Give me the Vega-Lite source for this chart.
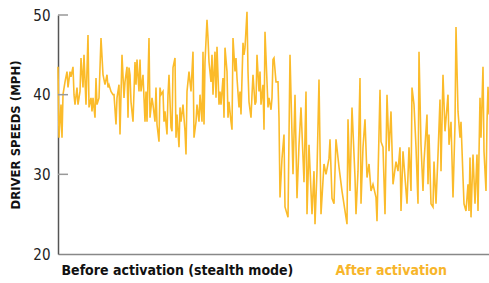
{
  "$schema": "https://vega.github.io/schema/vega-lite/v6.json",
  "width": 431,
  "height": 239,
  "autosize": {"type": "none"},
  "padding": {"left": 58, "top": 15, "right": 0, "bottom": 29},
  "background": "white",
  "config": {"view": {"stroke": null}, "font": "DejaVu Sans Condensed"},
  "layer": [
    {
      "data": {"values": [
        {"t":0,"mph":43.5},{"t":1,"mph":34.6},{"t":3,"mph":38.75},{"t":4,"mph":34.6},{"t":5,"mph":40},{"t":7,"mph":41.6},{"t":9,"mph":42.9},{"t":10,"mph":40.9},{"t":12,"mph":42.9},{"t":13,"mph":42.25},{"t":15,"mph":43.5},{"t":16,"mph":40},{"t":17,"mph":38.75},{"t":19,"mph":40.9},{"t":20,"mph":38.75},{"t":22,"mph":40.4},{"t":23,"mph":44.6},{"t":25,"mph":40.9},{"t":26,"mph":45},{"t":28,"mph":38.75},{"t":30,"mph":47.5},{"t":31,"mph":38.4},{"t":33,"mph":39.6},{"t":34,"mph":37.9},{"t":35,"mph":39.6},{"t":37,"mph":37.1},{"t":38,"mph":42.1},{"t":39,"mph":38.75},{"t":41,"mph":39.6},{"t":43,"mph":47.1},{"t":45,"mph":42.5},{"t":47,"mph":41.25},{"t":49,"mph":42.5},{"t":50,"mph":40.9},{"t":51,"mph":41.25},{"t":53,"mph":40.4},{"t":55,"mph":40},{"t":56,"mph":40},{"t":58,"mph":36.25},{"t":59,"mph":39.6},{"t":61,"mph":41.25},{"t":62,"mph":35},{"t":64,"mph":45},{"t":66,"mph":39.6},{"t":67,"mph":41.6},{"t":69,"mph":43.5},{"t":70,"mph":37.1},{"t":71,"mph":43.4},{"t":72,"mph":42.5},{"t":73,"mph":39.1},{"t":75,"mph":36.6},{"t":77,"mph":44.1},{"t":78,"mph":41.25},{"t":79,"mph":44.4},{"t":81,"mph":40.4},{"t":82,"mph":44.4},{"t":83,"mph":40.4},{"t":85,"mph":42.5},{"t":87,"mph":36.6},{"t":88,"mph":40.4},{"t":89,"mph":36.6},{"t":91,"mph":47.1},{"t":92,"mph":37.1},{"t":94,"mph":39.6},{"t":95,"mph":38.75},{"t":97,"mph":36.6},{"t":98,"mph":40.9},{"t":99,"mph":36.25},{"t":101,"mph":34.1},{"t":102,"mph":40.9},{"t":103,"mph":40},{"t":105,"mph":40.4},{"t":106,"mph":36.6},{"t":107,"mph":37.9},{"t":109,"mph":35},{"t":110,"mph":40},{"t":111,"mph":42.5},{"t":113,"mph":35.9},{"t":114,"mph":35.4},{"t":115,"mph":43.4},{"t":117,"mph":44.6},{"t":118,"mph":34.6},{"t":119,"mph":37.5},{"t":121,"mph":33.4},{"t":122,"mph":38.4},{"t":123,"mph":36.6},{"t":125,"mph":38.75},{"t":127,"mph":35.4},{"t":128,"mph":32.5},{"t":129,"mph":40.4},{"t":131,"mph":42.9},{"t":132,"mph":41.6},{"t":133,"mph":40.4},{"t":135,"mph":45.4},{"t":136,"mph":34.6},{"t":138,"mph":36.6},{"t":139,"mph":38.75},{"t":141,"mph":36.6},{"t":142,"mph":40},{"t":144,"mph":36.6},{"t":145,"mph":45.4},{"t":146,"mph":36.25},{"t":147,"mph":44.1},{"t":149,"mph":49.4},{"t":150,"mph":47.1},{"t":151,"mph":44.1},{"t":153,"mph":41.6},{"t":154,"mph":45},{"t":155,"mph":40},{"t":157,"mph":45.4},{"t":158,"mph":39.6},{"t":159,"mph":46},{"t":161,"mph":38.75},{"t":162,"mph":40.4},{"t":163,"mph":38.75},{"t":165,"mph":42.1},{"t":166,"mph":37.1},{"t":167,"mph":45.9},{"t":169,"mph":42.9},{"t":170,"mph":37.1},{"t":171,"mph":39.1},{"t":173,"mph":36.6},{"t":174,"mph":35.6},{"t":175,"mph":47.1},{"t":177,"mph":42.9},{"t":178,"mph":44.6},{"t":179,"mph":42.1},{"t":181,"mph":38.4},{"t":182,"mph":40.4},{"t":183,"mph":37.5},{"t":185,"mph":46.5},{"t":186,"mph":45},{"t":187,"mph":45.9},{"t":189,"mph":50.4},{"t":190,"mph":42.9},{"t":191,"mph":39.1},{"t":193,"mph":37.1},{"t":194,"mph":40},{"t":195,"mph":42.5},{"t":197,"mph":38.75},{"t":198,"mph":39.1},{"t":199,"mph":45},{"t":201,"mph":40.4},{"t":202,"mph":42.9},{"t":203,"mph":38.75},{"t":205,"mph":41.25},{"t":206,"mph":35.6},{"t":207,"mph":47.9},{"t":209,"mph":41.6},{"t":210,"mph":38.4},{"t":211,"mph":39.6},{"t":213,"mph":38.1},{"t":214,"mph":39.6},{"t":215,"mph":44.4},{"t":216,"mph":44.6},{"t":218,"mph":41.6},{"t":220,"mph":41.6},{"t":221,"mph":37.1},
        {"t":222,"mph":27.1},{"t":224,"mph":32},{"t":226,"mph":35},{"t":227,"mph":25.9},{"t":230,"mph":24.6},{"t":232,"mph":45},{"t":235,"mph":30},{"t":237,"mph":40},{"t":239,"mph":27},{"t":241,"mph":33.7},{"t":243,"mph":38.4},{"t":246,"mph":29},{"t":248,"mph":40.4},{"t":249,"mph":25},{"t":251,"mph":33.7},{"t":254,"mph":25},{"t":256,"mph":30.4},{"t":257,"mph":23.75},{"t":259,"mph":30.4},{"t":261,"mph":41.9},{"t":263,"mph":25},{"t":266,"mph":31.3},{"t":268,"mph":30},{"t":271,"mph":32},{"t":272,"mph":34.4},{"t":274,"mph":27},{"t":276,"mph":26.3},{"t":278,"mph":34.4},{"t":281,"mph":30.9},{"t":284,"mph":27.9},{"t":287,"mph":25.4},{"t":289,"mph":23.75},{"t":290,"mph":36.9},{"t":292,"mph":27.9},{"t":294,"mph":38.4},{"t":297,"mph":29.6},{"t":298,"mph":25},{"t":300,"mph":30.4},{"t":302,"mph":42.1},{"t":303,"mph":26.3},{"t":305,"mph":33.4},{"t":307,"mph":36.9},{"t":309,"mph":29.6},{"t":311,"mph":31.3},{"t":313,"mph":27.9},{"t":315,"mph":28.75},{"t":318,"mph":27.1},{"t":319,"mph":24.1},{"t":322,"mph":40.6},{"t":323,"mph":34.1},{"t":325,"mph":33.4},{"t":327,"mph":25},{"t":329,"mph":40},{"t":331,"mph":32.9},{"t":333,"mph":37.9},{"t":335,"mph":28.75},{"t":338,"mph":31.6},{"t":340,"mph":30.4},{"t":342,"mph":33.4},{"t":343,"mph":25.4},{"t":345,"mph":32.9},{"t":347,"mph":29.6},{"t":349,"mph":26.3},{"t":351,"mph":33.4},{"t":353,"mph":27.9},{"t":354,"mph":40.9},{"t":356,"mph":38.75},{"t":358,"mph":33.4},{"t":360,"mph":26.3},{"t":361,"mph":45.4},{"t":363,"mph":33.7},{"t":365,"mph":27.9},{"t":366,"mph":31.6},{"t":369,"mph":37.5},{"t":370,"mph":28.75},{"t":371,"mph":35},{"t":373,"mph":26.3},{"t":375,"mph":25.9},{"t":376,"mph":31.6},{"t":378,"mph":26.3},{"t":380,"mph":32.5},{"t":382,"mph":39.4},{"t":383,"mph":30.4},{"t":385,"mph":42.5},{"t":387,"mph":35.4},{"t":390,"mph":40},{"t":391,"mph":33.7},{"t":393,"mph":36.6},{"t":395,"mph":27.1},{"t":397,"mph":36.25},{"t":398,"mph":48.5},{"t":400,"mph":37.9},{"t":402,"mph":34.6},{"t":403,"mph":36.6},{"t":405,"mph":29.6},{"t":406,"mph":26.3},{"t":408,"mph":25.4},{"t":410,"mph":28.75},{"t":411,"mph":25.4},{"t":412,"mph":32.1},{"t":413,"mph":24.6},{"t":415,"mph":32.5},{"t":417,"mph":26.3},{"t":419,"mph":32.5},{"t":420,"mph":25.4},{"t":422,"mph":39.6},{"t":423,"mph":34.6},{"t":425,"mph":43.5},{"t":426,"mph":32.9},{"t":428,"mph":27.9},{"t":429,"mph":36.6},{"t":430,"mph":41},{"t":431,"mph":37.5}
      ]},
      "mark": {"type": "line", "color": "#fbbb2a", "strokeWidth": 1.6, "interpolate": "linear"},
      "encoding": {
        "x": {
          "field": "t", "type": "quantitative",
          "scale": {"domain": [0, 431], "nice": false, "zero": false},
          "axis": {
            "title": null, "grid": false, "ticks": false,
            "values": [3, 277],
            "labelExpr": "datum.value < 100 ? 'Before activation (stealth mode)' : 'After activation'",
            "labelAlign": "left", "labelBaseline": "top",
            "labelFont": "DejaVu Sans Condensed", "labelFontSize": 14, "labelFontWeight": "bold",
            "labelColor": {"condition": {"test": "datum.value > 100", "value": "#f7b52a"}, "value": "#111111"},
            "labelPadding": 9, "labelOverlap": false, "labelFlush": false, "labelLimit": 400,
            "domainColor": "#888888", "domainWidth": 1.5
          }
        },
        "y": {
          "field": "mph", "type": "quantitative",
          "scale": {"domain": [20, 50], "nice": false, "zero": false},
          "axis": {
            "title": "DRIVER SPEEDS (MPH)", "titleFont": "DejaVu Sans Condensed", "titleFontSize": 13, "titleFontWeight": "bold", "titleColor": "#111111", "titlePadding": 10,
            "values": [20, 30, 40, 50], "grid": false, "ticks": false,
            "labelFont": "DejaVu Sans Condensed", "labelFontSize": 15, "labelColor": "#222222", "labelPadding": 8,
            "domainColor": "#555555", "domainWidth": 1.5
          }
        }
      }
    },
    {
      "data": {"values": [{"tick": 30}, {"tick": 40}, {"tick": 50}]},
      "mark": {"type": "rule", "color": "#999999", "strokeWidth": 1.5},
      "encoding": {
        "y": {"field": "tick", "type": "quantitative"},
        "x": {"datum": 0},
        "x2": {"datum": 10}
      }
    }
  ]
}
